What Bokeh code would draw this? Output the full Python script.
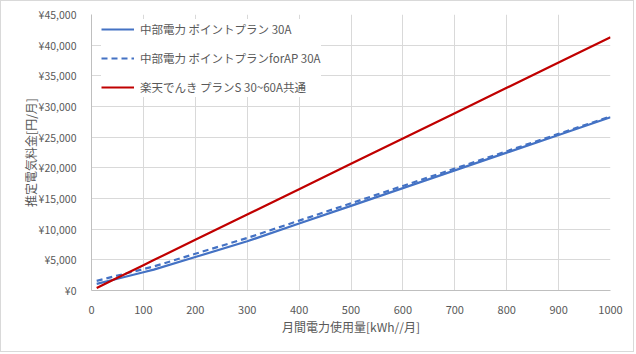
from bokeh.plotting import figure
from bokeh.models import Range1d, FixedTicker, CustomJSTickFormatter, Legend, LegendItem
from bokeh.embed import file_html
from bokeh.resources import INLINE

# Data (monthly usage kWh vs estimated monthly bill in yen)
usage = [10, 50, 100, 120, 200, 300, 400, 500, 600, 700, 800, 900, 1000]
chubu_point_30a = [1070, 1918, 2978, 3402, 5456, 8023, 10913, 13803, 16693, 19583, 22473, 25363, 28253]
chubu_point_forap_30a = [1580, 2430, 3490, 3920, 5990, 8560, 11390, 14220, 17050, 19880, 22710, 25540, 28370]
rakuten_s = [413, 2065, 4130, 4956, 8260, 12390, 16520, 20650, 24780, 28910, 33040, 37170, 41300]
series_names = ["中部電力 ポイントプラン 30A", "中部電力 ポイントプランforAP 30A", "楽天でんき プランS 30~60A共通"]
x_ticks = [0, 100, 200, 300, 400, 500, 600, 700, 800, 900, 1000]
y_ticks = [0, 5000, 10000, 15000, 20000, 25000, 30000, 35000, 40000, 45000]
x_title = "月間電力使用量[kWh//月]"
y_title = "推定電気料金[円/月]"

FONT = "Noto Sans CJK JP"
GRAY = "#595959"

p = figure(width=634, height=352, output_backend="svg", toolbar_location=None,
           x_range=Range1d(0, 1000), y_range=Range1d(0, 45000),
           min_border_left=90, min_border_right=25, min_border_top=13, min_border_bottom=63)
p.styles = {"border": "1px solid #D9D9D9"}
p.outline_line_color = None
p.background_fill_color = "white"

for ax in (p.xaxis[0], p.yaxis[0]):
    ax.major_tick_line_color = None
    ax.minor_tick_line_color = None
    ax.axis_line_color = "#BFBFBF"
    ax.major_label_text_font = FONT
    ax.major_label_text_font_size = "11px"
    ax.major_label_text_color = GRAY
    ax.axis_label_text_font = FONT
    ax.axis_label_text_font_size = "12px"
    ax.axis_label_text_color = GRAY
    ax.axis_label_text_font_style = "normal"

p.yaxis.major_label_text_font_size = "10.5px"
p.xaxis.ticker = FixedTicker(ticks=x_ticks)
p.yaxis.ticker = FixedTicker(ticks=y_ticks)
p.yaxis.formatter = CustomJSTickFormatter(code="return '¥' + tick.toLocaleString('en-US');")
p.xaxis.major_label_standoff = 9
p.yaxis.major_label_standoff = 9
p.xaxis.axis_label = x_title
p.yaxis.axis_label = y_title
p.xaxis.axis_label_standoff = 1
p.yaxis.axis_label_standoff = -3

p.xgrid.grid_line_color = "#D9D9D9"
p.ygrid.grid_line_color = "#D9D9D9"

r1 = p.line(usage, chubu_point_30a, line_color="#4472C4", line_width=2.2)
r2 = p.line(usage, chubu_point_forap_30a, line_color="#4472C4", line_width=2.2, line_dash="6 4")
r3 = p.line(usage, rakuten_s, line_color="#C00000", line_width=2.2)

legend = Legend(items=[LegendItem(label=series_names[0], renderers=[r1]),
                       LegendItem(label=series_names[1], renderers=[r2]),
                       LegendItem(label=series_names[2], renderers=[r3])],
                location=(10, 193))
legend.margin = 0
legend.padding = 3
legend.glyph_width = 33
legend.glyph_height = 20
legend.spacing = 9
legend.label_standoff = 6
legend.label_text_font = FONT
legend.label_text_font_size = "11.5px"
legend.label_text_color = GRAY
legend.background_fill_color = "white"
legend.background_fill_alpha = 1.0
legend.border_line_color = None
p.add_layout(legend)

open("out.html", "w").write(file_html(p, INLINE))
